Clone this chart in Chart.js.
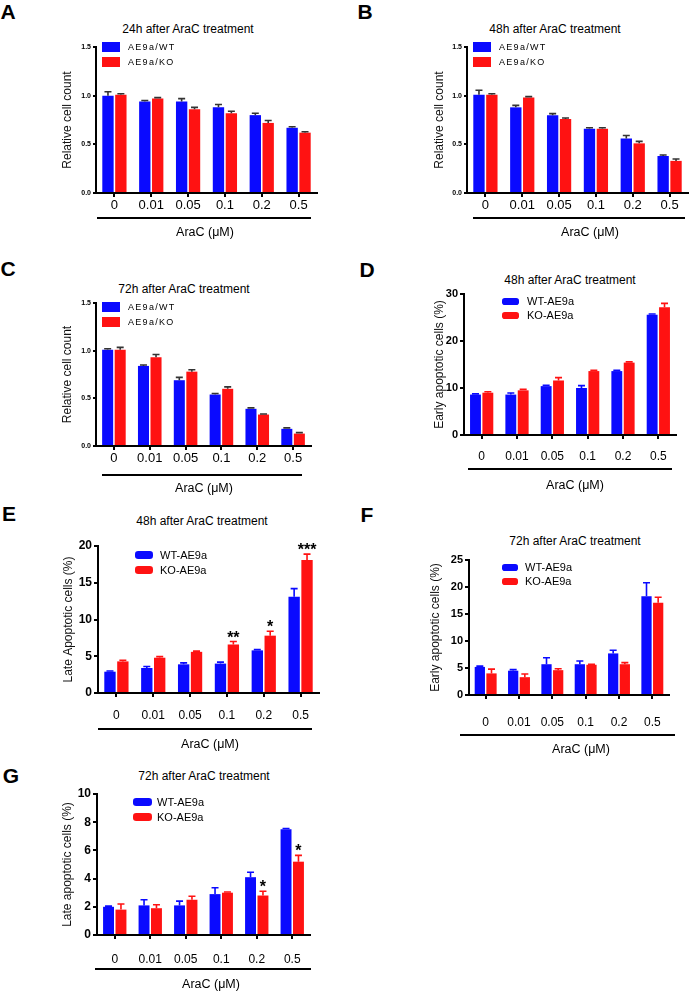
<!DOCTYPE html>
<html>
<head>
<meta charset="utf-8">
<script src="https://cdn.jsdelivr.net/npm/chart.js@4.4.0/dist/chart.umd.min.js"></script>
<style>
  body { margin: 0; background: #fff; width: 690px; height: 992px; position: relative; overflow: hidden;
         font-family: "Liberation Sans", Arial, sans-serif; color: #000; }
  canvas { position: absolute; }
  .lbl { position: absolute; transform: translate(-50%, -50%); white-space: nowrap; }
  .letter { font-weight: bold; font-size: 21px; }
  .ttl { font-size: 12px; }
</style>
</head>
<body>
<div class="lbl letter" style="left:8px;top:12px">A</div>
<div class="lbl letter" style="left:365px;top:12px">B</div>
<div class="lbl letter" style="left:8px;top:269px">C</div>
<div class="lbl letter" style="left:367px;top:270px">D</div>
<div class="lbl letter" style="left:9px;top:514px">E</div>
<div class="lbl letter" style="left:367px;top:515px">F</div>
<div class="lbl letter" style="left:11px;top:776px">G</div>

<div class="lbl ttl" style="left:188px;top:29px">24h after AraC treatment</div>
<div class="lbl ttl" style="left:555px;top:29px">48h after AraC treatment</div>
<div class="lbl ttl" style="left:184px;top:289px">72h after AraC treatment</div>
<div class="lbl ttl" style="left:570px;top:280px">48h after AraC treatment</div>
<div class="lbl ttl" style="left:202px;top:521px">48h after AraC treatment</div>
<div class="lbl ttl" style="left:575px;top:541px">72h after AraC treatment</div>
<div class="lbl ttl" style="left:204px;top:776px">72h after AraC treatment</div>

<script>
const doses = ['0', '0.01', '0.05', '0.1', '0.2', '0.5'];
const countNames = ['AE9a/WT', 'AE9a/KO'];
const apopNames = ['WT-AE9a', 'KO-AE9a'];

// A: relative cell count, 24h
const count24WT = [1.00, 0.94, 0.94, 0.88, 0.80, 0.67];
const count24WTErr = [0.04, 0.01, 0.03, 0.03, 0.02, 0.01];
const count24KO = [1.01, 0.97, 0.86, 0.82, 0.72, 0.62];
const count24KOErr = [0.01, 0.01, 0.02, 0.02, 0.025, 0.01];

// B: relative cell count, 48h
const count48WT = [1.01, 0.88, 0.80, 0.66, 0.56, 0.38];
const count48WTErr = [0.045, 0.02, 0.015, 0.01, 0.03, 0.01];
const count48KO = [1.01, 0.98, 0.76, 0.66, 0.51, 0.33];
const count48KOErr = [0.01, 0.01, 0.01, 0.01, 0.02, 0.02];

// C: relative cell count, 72h
const count72WT = [1.01, 0.84, 0.69, 0.54, 0.39, 0.18];
const count72WTErr = [0.01, 0.01, 0.03, 0.01, 0.01, 0.01];
const count72KO = [1.01, 0.93, 0.78, 0.60, 0.33, 0.13];
const count72KOErr = [0.025, 0.03, 0.02, 0.02, 0.005, 0.01];

// D: early apoptotic, 48h
const early48WT = [8.6, 8.6, 10.4, 10.0, 13.6, 25.6];
const early48WTErr = [0.15, 0.35, 0.2, 0.5, 0.15, 0.15];
const early48KO = [9.0, 9.5, 11.6, 13.6, 15.4, 27.2];
const early48KOErr = [0.2, 0.2, 0.6, 0.15, 0.15, 0.8];

// E: late apoptotic, 48h
const late48WT = [2.9, 3.4, 3.9, 4.0, 5.8, 13.1];
const late48WTErr = [0.1, 0.2, 0.2, 0.2, 0.1, 1.1];
const late48KO = [4.3, 4.8, 5.6, 6.6, 7.8, 18.1];
const late48KOErr = [0.15, 0.15, 0.1, 0.4, 0.6, 0.8];
const late48Stars = ['', '', '', '**', '*', '***'];

// F: early apoptotic, 72h
const early72WT = [5.2, 4.5, 5.7, 5.7, 7.7, 18.3];
const early72WTErr = [0.15, 0.2, 1.2, 0.6, 0.6, 2.5];
const early72KO = [4.0, 3.3, 4.6, 5.6, 5.7, 17.1];
const early72KOErr = [0.8, 0.6, 0.25, 0.1, 0.3, 1.0];

// G: late apoptotic, 72h
const late72WT = [2.0, 2.1, 2.1, 2.9, 4.1, 7.5];
const late72WTErr = [0.05, 0.4, 0.3, 0.45, 0.35, 0.05];
const late72KO = [1.8, 1.9, 2.5, 3.0, 2.8, 5.2];
const late72KOErr = [0.4, 0.25, 0.25, 0.05, 0.3, 0.45];
const late72Stars = ['', '', '', '', '*', '*'];

const FONT = '"Liberation Sans", Arial, sans-serif';
const BLUE = '#0a0aff';
const RED = '#ff1212';

// error bars, stars, legend, underline and x title
const extras = {
    id: 'extras',
    afterDatasetsDraw(chart, args, o) {
        const ctx = chart.ctx;
        const ys = chart.scales.y;
        ctx.save();
        chart.data.datasets.forEach((ds, di) => {
            chart.getDatasetMeta(di).data.forEach((bar, i) => {
                const y0 = ys.getPixelForValue(ds.data[i]);
                const y1 = ys.getPixelForValue(ds.data[i] + ds.errors[i]);
                ctx.strokeStyle = o.errColor || ds.backgroundColor;
                ctx.lineWidth = 1.6;
                ctx.beginPath();
                ctx.moveTo(bar.x, y0);
                ctx.lineTo(bar.x, y1);
                ctx.moveTo(bar.x - 3.5, y1);
                ctx.lineTo(bar.x + 3.5, y1);
                ctx.stroke();
                if (ds.stars && ds.stars[i]) {
                    ctx.fillStyle = '#000';
                    ctx.font = 'bold 16px ' + FONT;
                    ctx.textAlign = 'center';
                    ctx.textBaseline = 'alphabetic';
                    ctx.fillText(ds.stars[i], bar.x, y1 + 1);
                }
            });
        });
        ctx.restore();
    },
    afterDraw(chart, args, o) {
        const ctx = chart.ctx;
        const lg = o.legend;
        ctx.save();
        chart.data.datasets.forEach((ds, di) => {
            const top = lg.y + di * lg.rowGap;
            ctx.fillStyle = ds.backgroundColor;
            ctx.beginPath();
            if (lg.rounded) {
                ctx.roundRect(lg.x, top, lg.boxW, lg.boxH, lg.boxH / 2.5);
            } else {
                ctx.rect(lg.x, top, lg.boxW, lg.boxH);
            }
            ctx.fill();
            ctx.fillStyle = '#000';
            ctx.font = lg.font + 'px ' + FONT;
            ctx.letterSpacing = (lg.spacing || 0) + 'px';
            ctx.textAlign = 'left';
            ctx.textBaseline = 'middle';
            ctx.fillText(ds.label, lg.textX, top + lg.boxH / 2 + 0.5);
        });
        ctx.letterSpacing = '0px';
        // underline below the dose labels
        ctx.strokeStyle = '#000';
        ctx.lineWidth = 2;
        ctx.beginPath();
        ctx.moveTo(o.line.x1, o.line.y);
        ctx.lineTo(o.line.x2, o.line.y);
        ctx.stroke();
        ctx.fillStyle = '#000';
        ctx.font = '12.5px ' + FONT;
        ctx.textAlign = 'center';
        ctx.textBaseline = 'middle';
        ctx.fillText('AraC (\u03bcM)', o.xTitle.x, o.xTitle.y);
        ctx.restore();
    }
};

function makePanel(p) {
    const cl = Math.round(p.yTitleX - 7);
    const ct = p.area.t - 28;
    const cr = p.canvasRight;
    const cb = Math.round(p.xTitle.y + 9);
    const w = cr - cl, h = cb - ct;
    const cv = document.createElement('canvas');
    cv.width = w;
    cv.height = h;
    cv.style.left = cl + 'px';
    cv.style.top = ct + 'px';
    cv.style.width = w + 'px';
    cv.style.height = h + 'px';
    document.body.appendChild(cv);

    const ds2 = {
        label: p.names[1], data: p.ko, errors: p.koErr, backgroundColor: RED
    };
    if (p.stars) ds2.stars = p.stars;

    new Chart(cv, {
        type: 'bar',
        data: {
            labels: doses,
            datasets: [
                { label: p.names[0], data: p.wt, errors: p.wtErr, backgroundColor: BLUE },
                ds2
            ]
        },
        options: {
            responsive: false,
            animation: false,
            events: [],
            layout: { padding: { top: p.area.t - ct, right: cr - p.area.r, left: 0, bottom: 0 } },
            datasets: { bar: { categoryPercentage: 0.7, barPercentage: 0.88 } },
            plugins: {
                legend: { display: false },
                tooltip: { enabled: false },
                extras: {
                    errColor: p.errColor,
                    legend: Object.assign({}, p.legend, {
                        x: p.legend.x - cl, y: p.legend.y - ct, textX: p.legend.textX - cl
                    }),
                    line: { x1: p.line.x1 - cl, x2: p.line.x2 - cl, y: p.line.y - ct },
                    xTitle: { x: p.xTitle.x - cl, y: p.xTitle.y - ct }
                }
            },
            scales: {
                x: {
                    offset: true,
                    grid: { drawOnChartArea: false, offset: false, color: '#000', lineWidth: 2, tickLength: 4 },
                    border: { color: '#000', width: 2 },
                    ticks: {
                        color: '#000', font: { family: FONT, size: p.xFont },
                        padding: p.xPad, maxRotation: 0, autoSkip: false
                    },
                    afterFit: s => { s.height = cb - p.area.b; }
                },
                y: {
                    min: 0,
                    max: p.yMax,
                    ticks: {
                        stepSize: p.yStep, color: '#000', padding: 2,
                        font: { family: FONT, size: p.yFont, weight: 'bold' },
                        callback: v => p.yDec ? v.toFixed(1) : v
                    },
                    grid: { drawOnChartArea: false, color: '#000', lineWidth: 2, tickLength: p.yTick },
                    border: { color: '#000', width: 2 },
                    title: {
                        display: true, text: p.yTitle, color: '#111', padding: 0,
                        font: { family: FONT, size: 12 }
                    },
                    afterFit: s => { s.width = p.area.l - cl; }
                }
            }
        },
        plugins: [extras]
    });
}

const countLegend = { boxW: 18, boxH: 10, rowGap: 15, font: 9, spacing: 1.3, rounded: false };

// A
makePanel({
    names: countNames, wt: count24WT, wtErr: count24WTErr, ko: count24KO, koErr: count24KOErr,
    errColor: '#333', yTitle: 'Relative cell count', yTitleX: 67,
    area: { l: 96, t: 47, r: 317, b: 193 }, canvasRight: 330,
    yMax: 1.5, yStep: 0.5, yDec: true, yFont: 7, yTick: 3, xFont: 13, xPad: 1,
    legend: Object.assign({ x: 102, y: 42, textX: 128 }, countLegend),
    line: { x1: 97, x2: 311, y: 218 }, xTitle: { x: 205, y: 233 }
});

// B
makePanel({
    names: countNames, wt: count48WT, wtErr: count48WTErr, ko: count48KO, koErr: count48KOErr,
    errColor: '#333', yTitle: 'Relative cell count', yTitleX: 439,
    area: { l: 467, t: 47, r: 688, b: 193 }, canvasRight: 690,
    yMax: 1.5, yStep: 0.5, yDec: true, yFont: 7, yTick: 3, xFont: 13, xPad: 1,
    legend: Object.assign({ x: 473, y: 42, textX: 499 }, countLegend),
    line: { x1: 473, x2: 685, y: 218 }, xTitle: { x: 590, y: 233 }
});

// C
makePanel({
    names: countNames, wt: count72WT, wtErr: count72WTErr, ko: count72KO, koErr: count72KOErr,
    errColor: '#333', yTitle: 'Relative cell count', yTitleX: 67,
    area: { l: 96, t: 303, r: 311, b: 446 }, canvasRight: 325,
    yMax: 1.5, yStep: 0.5, yDec: true, yFont: 7, yTick: 3, xFont: 13, xPad: 1,
    legend: Object.assign({ x: 102, y: 302, textX: 128 }, countLegend),
    line: { x1: 102, x2: 302, y: 475 }, xTitle: { x: 204, y: 489 }
});

// D
makePanel({
    names: apopNames, wt: early48WT, wtErr: early48WTErr, ko: early48KO, koErr: early48KOErr,
    yTitle: 'Early apoptotic cells (%)', yTitleX: 439,
    area: { l: 464, t: 294, r: 676, b: 435 }, canvasRight: 686,
    yMax: 30, yStep: 10, yFont: 11, yTick: 4, xFont: 12, xPad: 10,
    legend: { x: 502, y: 298, textX: 527, boxW: 17, boxH: 7, rowGap: 14, font: 11, rounded: true },
    line: { x1: 468, x2: 672, y: 469 }, xTitle: { x: 575, y: 486 }
});

// E
makePanel({
    names: apopNames, wt: late48WT, wtErr: late48WTErr, ko: late48KO, koErr: late48KOErr,
    stars: late48Stars, yTitle: 'Late Apoptotic cells (%)', yTitleX: 68,
    area: { l: 98, t: 546, r: 319, b: 693 }, canvasRight: 330,
    yMax: 20, yStep: 5, yFont: 12, yTick: 4, xFont: 12, xPad: 11,
    legend: { x: 135, y: 551, textX: 160, boxW: 18, boxH: 8, rowGap: 15, font: 11, rounded: true },
    line: { x1: 98, x2: 312, y: 729 }, xTitle: { x: 210, y: 745 }
});

// F
makePanel({
    names: apopNames, wt: early72WT, wtErr: early72WTErr, ko: early72KO, koErr: early72KOErr,
    yTitle: 'Early apoptotic cells (%)', yTitleX: 435,
    area: { l: 469, t: 560, r: 669, b: 695 }, canvasRight: 685,
    yMax: 25, yStep: 5, yFont: 11, yTick: 4, xFont: 12, xPad: 16,
    legend: { x: 502, y: 564, textX: 525, boxW: 16, boxH: 7, rowGap: 14, font: 11, rounded: true },
    line: { x1: 460, x2: 675, y: 735 }, xTitle: { x: 581, y: 750 }
});

// G
makePanel({
    names: apopNames, wt: late72WT, wtErr: late72WTErr, ko: late72KO, koErr: late72KOErr,
    stars: late72Stars, yTitle: 'Late apoptotic cells (%)', yTitleX: 67,
    area: { l: 97, t: 794, r: 310, b: 935 }, canvasRight: 322,
    yMax: 10, yStep: 2, yFont: 12, yTick: 4, xFont: 12, xPad: 13,
    legend: { x: 133, y: 798, textX: 157, boxW: 19, boxH: 8, rowGap: 15, font: 11, rounded: true },
    line: { x1: 95, x2: 311, y: 969 }, xTitle: { x: 211, y: 985 }
});
</script>
</body>
</html>
